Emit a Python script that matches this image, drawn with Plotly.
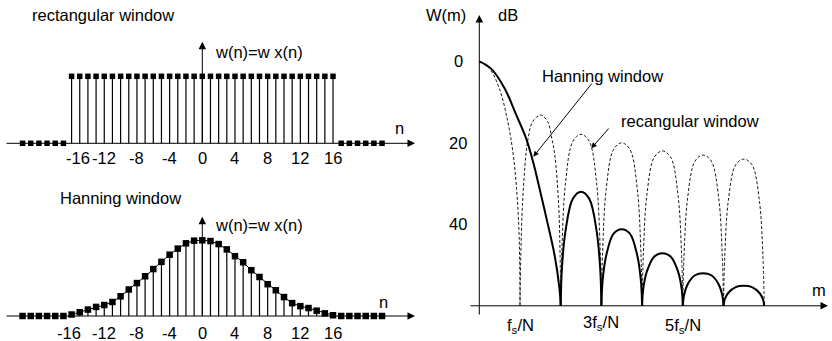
import plotly.graph_objects as go

# ---------------- data ----------------
# left panels: sample index n
n_win = [-16, -15, -14, -13, -12, -11, -10, -9, -8, -7, -6, -5, -4, -3, -2, -1, 0,
         1, 2, 3, 4, 5, 6, 7, 8, 9, 10, 11, 12, 13, 14, 15, 16]
w_rect = [1, 1, 1, 1, 1, 1, 1, 1, 1, 1, 1, 1, 1, 1, 1, 1, 1,
          1, 1, 1, 1, 1, 1, 1, 1, 1, 1, 1, 1, 1, 1, 1, 1]
w_hann = [0.02, 0.05, 0.085, 0.12, 0.145, 0.185, 0.26, 0.35, 0.435, 0.525, 0.62, 0.715,
          0.81, 0.89, 0.96, 0.995, 1.0,
          0.99, 0.95, 0.88, 0.79, 0.71, 0.605, 0.515, 0.42, 0.34, 0.25, 0.17, 0.13,
          0.105, 0.07, 0.035, 0.01]
n_zero = [-22, -21, -20, -19, -18, -17, 17, 18, 19, 20, 21, 22]
w_zero = [0, 0, 0, 0, 0, 0, 0, 0, 0, 0, 0, 0]
n_ticks = [-16, -12, -8, -4, 0, 4, 8, 12, 16]
n_tick_labels = ["-16", "-12", "-8", "-4", "0", "4", "8", "12", "16"]

# right panel: spectra in dB (m in units of fs/N), one list per lobe
rect_m = [
    [0, 0.245, 0.49, 0.70, 0.835, 0.915, 0.965, 0.99, 1.0],
    [1, 1.02, 1.06, 1.145, 1.2, 1.31, 1.51, 1.68, 1.78, 1.855, 1.95, 1.985, 2],
    [2, 2.03, 2.12, 2.3, 2.5, 2.7, 2.88, 2.97, 3],
    [3, 3.03, 3.12, 3.3, 3.5, 3.7, 3.88, 3.97, 4],
    [4, 4.03, 4.12, 4.3, 4.5, 4.7, 4.88, 4.97, 5],
    [5, 5.03, 5.12, 5.3, 5.5, 5.7, 5.88, 5.97, 6],
    [6, 6.03, 6.12, 6.3, 6.5, 6.7, 6.88, 6.97, 7],
]
rect_db = [
    [0, 1.7, 6.6, 14.8, 23, 31.2, 39.4, 47.6, 60],
    [60, 47.6, 35.3, 23, 18.9, 14.8, 13.2, 14.8, 18.9, 23, 35.3, 47.6, 60],
    [60, 46.1, 29.7, 19.6, 17.9, 19.6, 29.7, 46.1, 60],
    [60, 46.8, 31.2, 21.6, 20, 21.6, 31.2, 46.8, 60],
    [60, 47.5, 32.6, 23.5, 22, 23.5, 32.6, 47.5, 60],
    [60, 47.8, 33.4, 24.5, 23, 24.5, 33.4, 47.8, 60],
    [60, 48.1, 34.1, 25.4, 24, 25.4, 34.1, 48.1, 60],
]
hann_m = [
    [0, 0.29, 0.62, 0.91, 1.15, 1.32, 1.48, 1.67, 1.85, 1.97, 2.0],
    [2, 2.03, 2.12, 2.3, 2.5, 2.7, 2.88, 2.97, 3],
    [3, 3.03, 3.12, 3.3, 3.5, 3.7, 3.88, 3.97, 4],
    [4, 4.03, 4.12, 4.3, 4.5, 4.7, 4.88, 4.97, 5],
    [5, 5.03, 5.12, 5.3, 5.5, 5.7, 5.88, 5.97, 6],
    [6, 6.03, 6.12, 6.3, 6.5, 6.7, 6.88, 6.97, 7],
]
hann_db = [
    [0, 1.8, 6.6, 13.2, 18.9, 24.6, 31.2, 39.4, 47.6, 55.8, 60],
    [60, 50.8, 41.5, 33.7, 32, 33.7, 41.5, 50.8, 60],
    [60, 53.8, 47.6, 42.3, 41.2, 42.3, 47.6, 53.8, 60],
    [60, 55.7, 51.5, 47.9, 47.1, 47.9, 51.5, 55.7, 60],
    [60, 57.4, 54.7, 52.5, 52, 52.5, 54.7, 57.4, 60],
    [60, 58.4, 56.8, 55.4, 55.1, 55.4, 56.8, 58.4, 60],
]
db_ticks = [0, 20, 40]
m_ticks = [1, 3, 5]
m_tick_labels = ["f<sub>s</sub>/N", "3f<sub>s</sub>/N", "5f<sub>s</sub>/N"]

# ---------------- figure ----------------
W, H = 832, 341
FONT = "Arial, Liberation Sans, sans-serif"
FS = 16.5
BLACK = "#000000"

fig = go.Figure()


def stems(xs, ys):
    sx, sy = [], []
    for x, y in zip(xs, ys):
        sx += [x, x, None]
        sy += [0, y, None]
    return sx, sy


def joined(ms, ds):
    xs, ys = [], []
    for m, d in zip(ms, ds):
        xs += m + [None]
        ys += d + [None]
    return xs, ys


# top-left: rectangular window
sx, sy = stems(n_win, w_rect)
fig.add_trace(go.Scatter(x=sx, y=sy, mode="lines", line=dict(color=BLACK, width=1.2),
                         xaxis="x", yaxis="y", hoverinfo="skip"))
fig.add_trace(go.Scatter(x=n_win, y=w_rect, mode="markers",
                         marker=dict(symbol="square", size=5.5, color=BLACK),
                         xaxis="x", yaxis="y"))
fig.add_trace(go.Scatter(x=n_zero, y=w_zero, mode="markers",
                         marker=dict(symbol="square", size=5.5, color=BLACK),
                         xaxis="x", yaxis="y"))

# bottom-left: Hanning window
sx, sy = stems(n_win, w_hann)
fig.add_trace(go.Scatter(x=sx, y=sy, mode="lines", line=dict(color=BLACK, width=1.2),
                         xaxis="x2", yaxis="y2", hoverinfo="skip"))
fig.add_trace(go.Scatter(x=n_win, y=w_hann, mode="lines+markers",
                         line=dict(color=BLACK, width=1),
                         marker=dict(symbol="square", size=6.5, color=BLACK),
                         xaxis="x2", yaxis="y2"))
fig.add_trace(go.Scatter(x=n_zero, y=w_zero, mode="markers",
                         marker=dict(symbol="square", size=6.5, color=BLACK),
                         xaxis="x2", yaxis="y2"))

# right: spectra
rx, ry = joined(rect_m, rect_db)
fig.add_trace(go.Scatter(x=rx, y=ry, mode="lines",
                         line=dict(color="#1a1a1a", width=1, dash="3px,2px", shape="spline", smoothing=1),
                         xaxis="x3", yaxis="y3", connectgaps=False))
hx, hy = joined(hann_m, hann_db)
fig.add_trace(go.Scatter(x=hx, y=hy, mode="lines",
                         line=dict(color=BLACK, width=2, shape="spline", smoothing=1),
                         xaxis="x3", yaxis="y3", connectgaps=False))

# ---------------- axes geometry ----------------
n0, ns = 202.3, 8.17          # pixel of n=0, pixels per n
xr_left = [(0 - n0) / ns, (416 - n0) / ns]
y1_0, y1_s = 143.3, 67.0
y2_0, y2_s = 316.0, 75.7
m0, msc = 479.3, 40.7
d0, dsc = 61.3, 4.075

hidden = dict(visible=False, showgrid=False, zeroline=False, fixedrange=True)
fig.update_layout(
    width=W, height=H, autosize=False,
    margin=dict(l=0, r=0, t=0, b=0),
    paper_bgcolor="white", plot_bgcolor="white",
    showlegend=False,
    font=dict(family=FONT, size=FS, color=BLACK),
    xaxis=dict(domain=[0, 416 / W], range=xr_left, anchor="y", **hidden),
    yaxis=dict(domain=[1 - 170 / H, 1], range=[-(170 - y1_0) / y1_s, y1_0 / y1_s], anchor="x", **hidden),
    xaxis2=dict(domain=[0, 416 / W], range=xr_left, anchor="y2", **hidden),
    yaxis2=dict(domain=[0, 1 - 170 / H], range=[-(341 - y2_0) / y2_s, (y2_0 - 170) / y2_s], anchor="x2", **hidden),
    xaxis3=dict(domain=[416 / W, 1], range=[(416 - m0) / msc, (832 - m0) / msc], anchor="y3", **hidden),
    yaxis3=dict(domain=[0, 1], range=[(341 - d0) / dsc, -d0 / dsc], anchor="x3", **hidden),
)


def arrow(x0, y0, x1, y1, xref, yref, size=1.5, width=1):
    fig.add_annotation(x=x1, y=y1, ax=x0, ay=y0, xref=xref, yref=yref, axref=xref, ayref=yref,
                       text="", showarrow=True, arrowhead=2, arrowsize=size, arrowwidth=width,
                       arrowcolor=BLACK, standoff=0, startstandoff=0)


def ptext(px, py, txt, xanchor="center", size=FS):
    fig.add_annotation(x=px / W, y=1 - py / H, xref="paper", yref="paper", text=txt,
                       showarrow=False, xanchor=xanchor, yanchor="middle",
                       font=dict(family=FONT, size=size, color=BLACK))


# axes arrows (left panels)
nl, nr = (5 - n0) / ns, (415 - n0) / ns
arrow(nl, 0, nr, 0, "x", "y")
arrow(0, 0, 0, (y1_0 - 41.7) / y1_s, "x", "y")
arrow(nl, 0, nr, 0, "x2", "y2")
arrow(0, 0, 0, (y2_0 - 216.7) / y2_s, "x2", "y2")

# right panel axes
arrow(0, (316 - d0) / dsc, 0, (15 - d0) / dsc, "x3", "y3")
arrow((469 - m0) / msc, 60, (828 - m0) / msc, 60, "x3", "y3")

# tick labels (left panels)
for v, lab in zip(n_ticks, n_tick_labels):
    shift_top = 6 if v == -16 else 0
    shift_bot = -3 if v == -16 else 0
    fig.add_annotation(x=v, y=0, xref="x", yref="y", text=lab, showarrow=False,
                       xanchor="center", yanchor="middle", yshift=-(157.5 - y1_0), xshift=shift_top)
    fig.add_annotation(x=v, y=0, xref="x2", yref="y2", text=lab, showarrow=False,
                       xanchor="center", yanchor="middle", yshift=-(332.5 - y2_0), xshift=shift_bot)

# tick labels (right panel)
for v in db_ticks:
    fig.add_annotation(x=0, y=v, xref="x3", yref="y3", text=str(v), showarrow=False,
                       xanchor="center", yanchor="middle", xshift=-21)
for v, lab in zip(m_ticks, m_tick_labels):
    fig.add_annotation(x=v, y=60, xref="x3", yref="y3", text=lab, showarrow=False,
                       xanchor="center", yanchor="middle", yshift=-20 if v != 3 else -17)

# texts
ptext(30, 15, "rectangular window", "left")
ptext(213, 52, "w(n)=w x(n)", "left")
ptext(399, 128, "n")
ptext(58, 198, "Hanning window", "left")
ptext(213, 225, "w(n)=w x(n)", "left")
ptext(383, 302, "n")
ptext(446, 15, "W(m)")
ptext(507.5, 15, "dB")
ptext(818.5, 290, "m")
ptext(540, 76, "Hanning window", "left")
ptext(619, 121, "recangular window", "left")

# pointer arrows on the right panel
arrow((593 - m0) / msc, (82 - d0) / dsc, (533.3 - m0) / msc, (156.7 - d0) / dsc, "x3", "y3", size=1.1)
arrow((610 - m0) / msc, (127 - d0) / dsc, (591.3 - m0) / msc, (148.3 - d0) / dsc, "x3", "y3", size=1.1)

fig.write_html("out.html", config={"displayModeBar": False},
               post_script="document.body.style.margin='0';document.body.style.padding='0';")
